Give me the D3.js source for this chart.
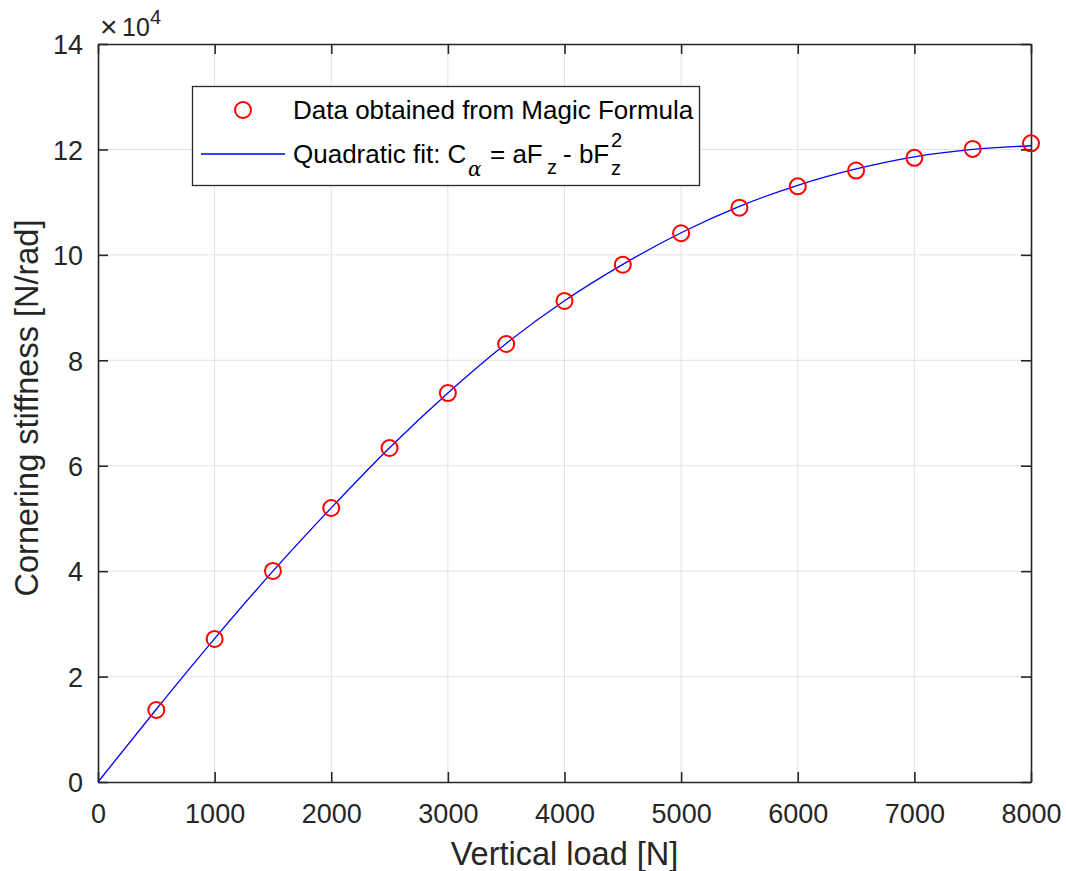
<!DOCTYPE html>
<html lang="en">
<head>
  <meta charset="UTF-8">
  <title>Cornering stiffness vs vertical load</title>
  <script src="https://d3js.org/d3.v7.min.js"></script>
  <style>
    body {
      margin: 0;
      background: #ffffff;
      overflow: hidden;
    }
    svg {
      font-family: Arial, "Liberation Sans", Helvetica, sans-serif;
    }
    .grid line {
      stroke: #e2e2e2;
      stroke-width: 1;
    }
    .tick-label {
      font-size: 27px;
      fill: #262626;
    }
  </style>
</head>
<body>
  <svg width="1066" height="871"></svg>

  <script>
    // data
    const loads = [500, 1000, 1500, 2000, 2500, 3000, 3500, 4000, 4500, 5000, 5500, 6000, 6500, 7000, 7500, 8000];
    const stiffness = [13660, 27130, 40030, 51980, 63360, 73790, 83090, 91250, 98130, 104100, 108950, 113000, 116000, 118400, 120100, 121150];

    // quadratic fit curve as seen in the picture
    const fitLoads = [0, 500, 1000, 1500, 2000, 2500, 3000, 3500, 4000, 4500, 5000, 5500, 6000, 6500, 7000, 7500, 8000];
    const fitValues = [0, 13800, 27200, 40000, 52000, 63400, 73800, 83200, 91300, 98200, 104200, 109200, 113200, 116300, 118600, 120000, 120700];

    const xTicks = [0, 1000, 2000, 3000, 4000, 5000, 6000, 7000, 8000];
    const yTicks = [0, 20000, 40000, 60000, 80000, 100000, 120000, 140000];

    const svg = d3.select("svg");
    const pL = 98, pR = 1031, pT = 44, pB = 782;

    const x = d3.scaleLinear().domain([0, 8000]).range([pL, pR]);
    const y = d3.scaleLinear().domain([0, 140000]).range([pB, pT]);

    // grid
    const grid = svg.append("g").attr("class", "grid");
    grid.selectAll("line.vx")
      .data(xTicks.slice(1, -1))
      .enter().append("line")
      .attr("x1", d => x(d)).attr("x2", d => x(d))
      .attr("y1", pT).attr("y2", pB);
    grid.selectAll("line.hy")
      .data(yTicks.slice(1, -1))
      .enter().append("line")
      .attr("y1", d => y(d)).attr("y2", d => y(d))
      .attr("x1", pL).attr("x2", pR);

    // axes with inward ticks on all sides
    const tickLen = 10;
    const axisColor = "#262626";
    const axB = svg.append("g")
      .attr("transform", `translate(0,${pB})`)
      .call(d3.axisBottom(x).tickValues(xTicks).tickSizeInner(-tickLen).tickSizeOuter(0).tickFormat(d3.format("d")));
    const axT = svg.append("g")
      .attr("transform", `translate(0,${pT})`)
      .call(d3.axisTop(x).tickValues(xTicks).tickSizeInner(-tickLen).tickSizeOuter(0).tickFormat(""));
    const axL = svg.append("g")
      .attr("transform", `translate(${pL},0)`)
      .call(d3.axisLeft(y).tickValues(yTicks).tickSizeInner(-tickLen).tickSizeOuter(0).tickFormat(d => d / 10000));
    const axR = svg.append("g")
      .attr("transform", `translate(${pR},0)`)
      .call(d3.axisRight(y).tickValues(yTicks).tickSizeInner(-tickLen).tickSizeOuter(0).tickFormat(""));

    [axB, axT, axL, axR].forEach(a => {
      a.attr("font-family", null).attr("font-size", null);
      a.select(".domain").attr("stroke", axisColor).attr("stroke-width", 1.6);
      a.selectAll(".tick line").attr("stroke", axisColor).attr("stroke-width", 1.6);
      a.selectAll(".tick text")
        .attr("class", "tick-label")
        .attr("fill", "#262626");
    });
    axB.selectAll(".tick text").attr("dy", null).attr("y", 41);
    axL.selectAll(".tick text").attr("dy", "0.36em").attr("x", -15);

    // exponent label
    svg.append("text")
      .attr("x", 100).attr("y", 37)
      .attr("fill", "#262626").attr("font-size", 30)
      .text("\u00d7");
    svg.append("text")
      .attr("x", 122).attr("y", 36)
      .attr("fill", "#262626").attr("font-size", 25)
      .text("10");
    svg.append("text")
      .attr("x", 150).attr("y", 24)
      .attr("fill", "#262626").attr("font-size", 20)
      .text("4");

    // fit line
    const line = d3.line()
      .x(d => x(d[0]))
      .y(d => y(d[1]))
      .curve(d3.curveMonotoneX);

    svg.append("path")
      .datum(d3.zip(fitLoads, fitValues))
      .attr("d", line)
      .attr("fill", "none")
      .attr("stroke", "#0000ff")
      .attr("stroke-width", 1.3);

    // data markers
    svg.selectAll("circle.pt")
      .data(d3.zip(loads, stiffness))
      .enter().append("circle")
      .attr("class", "pt")
      .attr("cx", d => x(d[0]))
      .attr("cy", d => y(d[1]))
      .attr("r", 8)
      .attr("fill", "none")
      .attr("stroke", "#ff0000")
      .attr("stroke-width", 2);

    // axis labels
    svg.append("text")
      .attr("x", (pL + pR) / 2).attr("y", 865)
      .attr("text-anchor", "middle")
      .attr("font-size", 32.5)
      .attr("fill", "#262626")
      .text("Vertical load [N]");

    svg.append("text")
      .attr("transform", `translate(38,${(pT + pB) / 2 - 5}) rotate(-90)`)
      .attr("text-anchor", "middle")
      .attr("font-size", 32.5)
      .attr("fill", "#262626")
      .text("Cornering stiffness [N/rad]");

    // legend
    const lg = svg.append("g");
    lg.append("rect")
      .attr("x", 192.5).attr("y", 86.5)
      .attr("width", 507).attr("height", 99)
      .attr("fill", "#ffffff")
      .attr("stroke", axisColor)
      .attr("stroke-width", 1.3);

    lg.append("circle")
      .attr("cx", 243).attr("cy", 110)
      .attr("r", 8)
      .attr("fill", "none")
      .attr("stroke", "#ff0000")
      .attr("stroke-width", 2);
    lg.append("text")
      .attr("x", 293).attr("y", 119)
      .attr("font-size", 26)
      .attr("fill", "#000")
      .text("Data obtained from Magic Formula");

    lg.append("line")
      .attr("x1", 201).attr("x2", 285)
      .attr("y1", 154).attr("y2", 154)
      .attr("stroke", "#0000ff")
      .attr("stroke-width", 1.3);

    const legendParts = [
      { text: "Quadratic fit: C", x: 293, y: 163, size: 26 },
      { text: "\u03b1", x: 468, y: 176, size: 20, italic: true },
      { text: "= aF", x: 490, y: 163, size: 26 },
      { text: "z", x: 547, y: 174, size: 20 },
      { text: "- bF", x: 563, y: 163, size: 26 },
      { text: "2", x: 611, y: 147, size: 20 },
      { text: "z", x: 611, y: 175, size: 20 }
    ];
    lg.selectAll("text.part")
      .data(legendParts)
      .enter().append("text")
      .attr("class", "part")
      .attr("x", d => d.x).attr("y", d => d.y)
      .attr("font-size", d => d.size)
      .attr("font-style", d => d.italic ? "italic" : null)
      .attr("font-family", d => d.italic ? "'DejaVu Serif', 'Liberation Serif', serif" : null)
      .attr("fill", "#000")
      .text(d => d.text);
  </script>
</body>
</html>
